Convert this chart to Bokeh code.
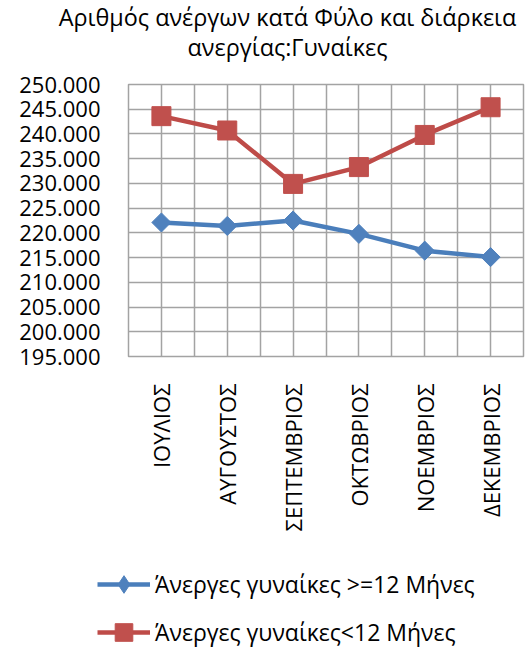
import math
from bokeh.plotting import figure
from bokeh.layouts import column
from bokeh.models import (FactorRange, Range1d, FixedTicker, Grid, Label, Legend, LegendItem)
from bokeh.embed import file_html
from bokeh.resources import INLINE

months = ["ΙΟΥΛΙΟΣ", "ΑΥΓΟΥΣΤΟΣ", "ΣΕΠΤΕΜΒΡΙΟΣ", "ΟΚΤΩΒΡΙΟΣ", "ΝΟΕΜΒΡΙΟΣ", "ΔΕΚΕΜΒΡΙΟΣ"]
long_term = [222100, 221400, 222500, 219800, 216400, 215100]
short_term = [243600, 240700, 229900, 233300, 239800, 245400]
y_ticks = [195000, 200000, 205000, 210000, 215000, 220000, 225000, 230000,
           235000, 240000, 245000, 250000]
y_tick_labels = ["195.000", "200.000", "205.000", "210.000", "215.000", "220.000",
                 "225.000", "230.000", "235.000", "240.000", "245.000", "250.000"]
title_lines = ["Αριθμός ανέργων κατά Φύλο και διάρκεια", "ανεργίας:Γυναίκες"]
series_names = ["Άνεργες γυναίκες >=12 Μήνες", "Άνεργες γυναίκες<12 Μήνες"]

FONT = "Open Sans"
GRID = "#a3a3a3"
BLUE = "#4a7ebb"
BLUE_M = "#4f81bd"
RED = "#be4b48"
RED_M = "#c0504d"
W = 526

# ---- title strip ----
t = figure(width=W, height=64, output_backend="svg", toolbar_location=None,
           x_range=Range1d(0, 1), y_range=Range1d(0, 1),
           x_axis_type=None, y_axis_type=None, min_border=0)
t.outline_line_color = None
t.grid.visible = False
t.frame_align = False
for i, line in enumerate(title_lines):
    t.add_layout(Label(x=287, y=48 - 30 * i, x_units="screen", y_units="screen",
                       text=line, text_align="center", text_baseline="middle",
                       text_font=FONT, text_font_size="23.4px", text_color="black"))

# ---- main chart ----
p = figure(width=W, height=482, output_backend="svg", toolbar_location=None,
           x_range=FactorRange(*months, range_padding=0),
           y_range=Range1d(195000, 250000),
           min_border_left=128, min_border_right=3, min_border_top=20,
           min_border_bottom=190)
p.frame_align = False
p.outline_line_color = GRID
p.outline_line_width = 1.5

p.yaxis.ticker = FixedTicker(ticks=y_ticks)
p.yaxis.major_label_overrides = {tk: lb for tk, lb in zip(y_ticks, y_tick_labels)}
p.yaxis.axis_line_color = None
p.yaxis.major_tick_line_color = None
p.yaxis.minor_tick_line_color = None
p.yaxis.major_tick_out = 0
p.yaxis.major_label_standoff = 28
p.yaxis.major_label_text_font = FONT
p.yaxis.major_label_text_font_size = "22px"
p.yaxis.major_label_text_color = "black"

p.xaxis.axis_line_color = None
p.xaxis.major_tick_line_color = None
p.xaxis.major_tick_out = 0
p.xaxis.major_label_orientation = math.pi / 2
p.xaxis.major_label_standoff = 27
p.xaxis.major_label_text_font = FONT
p.xaxis.major_label_text_font_size = "22px"
p.xaxis.major_label_text_color = "black"

p.ygrid.grid_line_color = GRID
p.ygrid.grid_line_width = 1.5
p.xgrid.grid_line_color = GRID
p.xgrid.grid_line_width = 1.5
p.add_layout(Grid(dimension=0, ticker=FixedTicker(ticks=list(range(len(months) + 1))),
                  grid_line_color=GRID, grid_line_width=1.5))

p.line(months, long_term, line_color=BLUE, line_width=4.5)
p.scatter(months, long_term, marker="square", angle=math.pi / 4, size=13.5,
          fill_color=BLUE_M, line_color=BLUE_M)
p.line(months, short_term, line_color=RED, line_width=4.5)
p.scatter(months, short_term, marker="square", size=19, fill_color=RED_M,
          line_color=RED_M)

# ---- legend strip ----
q = figure(width=W, height=104, output_backend="svg", toolbar_location=None,
           x_range=FactorRange(*months), y_range=Range1d(0, 1),
           x_axis_type=None, y_axis_type=None, min_border=0)
q.frame_align = False
q.outline_line_color = None
q.grid.visible = False
ql1 = q.line(months, long_term, line_color=BLUE, line_width=4.5)
qs1 = q.scatter(months, long_term, marker="diamond", fill_color=BLUE_M, line_color=BLUE_M)
ql2 = q.line(months, short_term, line_color=RED, line_width=4.5)
qs2 = q.scatter(months, short_term, marker="square", fill_color=RED_M, line_color=RED_M)

legend = Legend(items=[LegendItem(label=series_names[0], renderers=[ql1, qs1]),
                       LegendItem(label=series_names[1], renderers=[ql2, qs2])],
                location=(97, -4), orientation="vertical",
                padding=0, margin=0, spacing=4, border_line_color=None,
                background_fill_alpha=0, glyph_width=53, glyph_height=44,
                label_height=44, label_standoff=5,
                label_text_font=FONT, label_text_font_size="23px",
                label_text_color="black")
q.add_layout(legend, "center")

layout = column(t, p, q, spacing=0)
open("out.html", "w").write(file_html(layout, INLINE))
